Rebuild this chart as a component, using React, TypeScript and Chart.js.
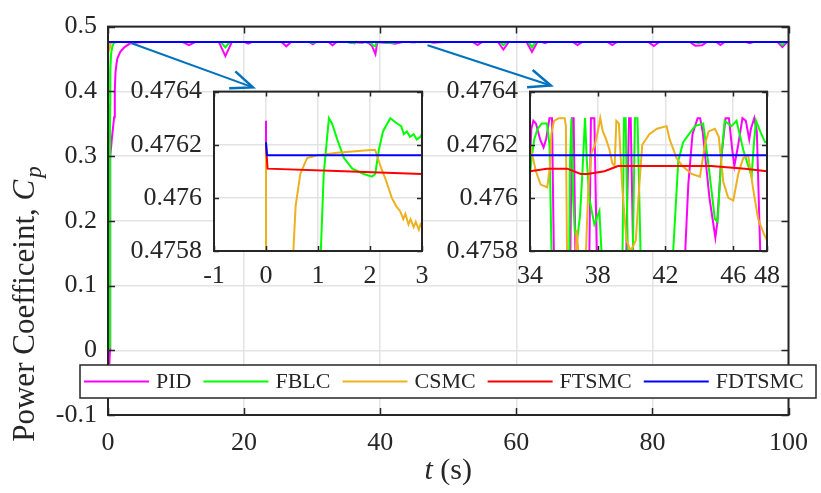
import React, { useEffect, useRef } from "react";
import { Chart, registerables } from "chart.js";

Chart.register(...registerables);

const FONT = '"Liberation Serif", "Times New Roman", serif';
const INK = "#262626";

const seriesNames = ["PID", "FBLC", "CSMC", "FTSMC", "FDTSMC"];
const seriesColors = ["#FF00FF", "#00FF00", "#EDB120", "#FF0000", "#0000FF"];

// [t (s), Cp]
const pid: number[][] = [
  [0, 0.47629], [0.02, -0.02], [0.2, -0.02], [0.3, 0.0], [0.33, 0.3], [0.6, 0.33], [0.9, 0.36],
  [1.0, 0.4], [1.1, 0.43], [1.35, 0.45], [1.8, 0.461], [2.4, 0.468], [3.2, 0.4738], [4.5, 0.4758],
  [6.0, 0.4762],
  [11.0, 0.4762], [11.9, 0.4712], [12.8, 0.4762],
  [16.3, 0.4762], [17.25, 0.4545], [18.2, 0.4762],
  [20.1, 0.4762], [20.6, 0.4738], [21.1, 0.4762],
  [25.5, 0.4762], [26.2, 0.4695], [26.9, 0.4762],
  [29.6, 0.4762], [30.1, 0.4728], [30.6, 0.4762],
  [32.4, 0.4762], [33.0, 0.4712], [33.6, 0.4762],
  [34.0, 0.47615], [34.08, 0.47626], [34.2, 0.47629], [34.35, 0.47628], [34.6, 0.47622], [34.8, 0.47619],
  [34.95, 0.47622], [35.15, 0.4763], [35.3, 0.4763], [35.45, 0.4756], [35.7, 0.475], [36.0, 0.4748],
  [36.2, 0.474], [36.35, 0.4756], [36.48, 0.4763], [36.58, 0.4763], [36.72, 0.4756], [37.0, 0.475],
  [37.4, 0.4752], [37.6, 0.4763], [37.8, 0.4763], [38.0, 0.4756], [38.3, 0.4748], [38.8, 0.47],
  [39.3, 0.4576], [39.55, 0.4745], [39.7, 0.47585], [39.85, 0.4763], [39.95, 0.4763], [40.15, 0.4756],
  [40.6, 0.475], [41.5, 0.4748], [42.2, 0.4735], [42.8, 0.475], [43.1, 0.4757], [43.35, 0.47605],
  [43.6, 0.47624], [43.9, 0.4763], [44.05, 0.4763], [44.2, 0.47625], [44.6, 0.476], [44.95, 0.47585],
  [45.05, 0.4759], [45.3, 0.47615], [45.55, 0.4763], [45.75, 0.4763], [45.95, 0.47618], [46.07, 0.47612],
  [46.3, 0.4762], [46.55, 0.4763], [46.75, 0.47629], [46.95, 0.47622], [47.05, 0.47626], [47.25, 0.4763],
  [47.4, 0.47625], [47.6, 0.4758], [47.8, 0.4752], [48.0, 0.475], [48.5, 0.4758], [49.5, 0.4762],
  [53.6, 0.4762], [54.3, 0.4715], [55.0, 0.4762],
  [57.3, 0.4762], [58.1, 0.4646], [58.9, 0.4762],
  [61.5, 0.4762], [62.3, 0.461], [63.1, 0.4762],
  [63.8, 0.4762], [64.2, 0.4745], [64.6, 0.4762],
  [68.3, 0.4762], [69.0, 0.4715], [69.7, 0.4762],
  [73.4, 0.4762], [74.1, 0.4715], [74.8, 0.4762],
  [79.4, 0.4762], [80.2, 0.47], [81.0, 0.4762],
  [85.5, 0.4762], [86.3, 0.4705], [87.3, 0.4712], [88.0, 0.4762],
  [89.4, 0.4762], [90.0, 0.4715], [90.6, 0.4762],
  [93.8, 0.4762], [94.3, 0.4742], [94.8, 0.4762],
  [98.4, 0.4762], [99.1, 0.4685], [99.8, 0.4762], [100, 0.4762],
];

const fblc: number[][] = [
  [0, 0.47621], [0.02, 0.0], [0.26, 0.005], [0.29, 0.2], [0.31, 0.38], [0.34, 0.43], [0.45, 0.458],
  [0.65, 0.47], [0.85, 0.4745],
  [1.035, 0.4757], [1.11, 0.47609], [1.21, 0.4763], [1.27, 0.47628], [1.37, 0.47622], [1.5, 0.47615],
  [1.66, 0.47611], [1.88, 0.47609], [2.04, 0.47608], [2.1, 0.47609], [2.17, 0.47618], [2.25, 0.47625],
  [2.39, 0.4763], [2.52, 0.47628], [2.6, 0.47627], [2.65, 0.47624], [2.71, 0.47625], [2.77, 0.47623],
  [2.84, 0.47624], [2.9, 0.47622], [2.97, 0.47623], [3.0, 0.47624], [4.0, 0.4762],
  [16.6, 0.4762], [17.25, 0.468], [17.9, 0.4762],
  [29.7, 0.4762], [30.1, 0.4745], [30.5, 0.4762],
  [33.5, 0.4762],
  [34.0, 0.47609], [34.1, 0.47615], [34.25, 0.47622], [34.45, 0.47626], [34.7, 0.47628], [35.0, 0.47628],
  [35.15, 0.4762], [35.3, 0.4757], [35.6, 0.4752], [36.0, 0.475], [36.2, 0.4745], [36.35, 0.4761],
  [36.45, 0.4763], [36.55, 0.476], [36.65, 0.47587], [36.8, 0.47585], [36.95, 0.47593], [37.1, 0.4761],
  [37.25, 0.4763], [37.35, 0.47615], [37.5, 0.476], [37.8, 0.4759], [38.1, 0.47595], [38.3, 0.4757],
  [38.6, 0.475], [39.0, 0.4705], [39.3, 0.4697], [39.45, 0.4757], [39.55, 0.4763], [39.65, 0.4763],
  [39.8, 0.4757], [40.05, 0.4757], [40.2, 0.4763], [40.35, 0.4763], [40.6, 0.4756], [41.0, 0.4752],
  [42.0, 0.475], [42.37, 0.4757], [42.76, 0.47614], [43.05, 0.47621], [43.74, 0.47627], [44.23, 0.47628],
  [44.55, 0.47612], [44.92, 0.47592], [45.08, 0.47591], [45.3, 0.47615], [45.5, 0.47629], [45.7, 0.47628],
  [45.9, 0.47627], [46.2, 0.47629], [46.6, 0.47618], [47.09, 0.47608], [47.22, 0.4762], [47.35, 0.47629],
  [47.6, 0.47625], [47.88, 0.47621], [48.0, 0.47621], [48.5, 0.4762],
  [57.6, 0.4762], [58.1, 0.4715], [58.6, 0.4762],
  [61.8, 0.4762], [62.3, 0.468], [62.8, 0.4762],
  [86.0, 0.4762], [86.8, 0.4748], [87.5, 0.4762],
  [98.7, 0.4762], [99.1, 0.4715], [99.5, 0.4762], [100, 0.4762],
];

const csmc: number[][] = [
  [0, 0.4762], [0.03, 0.468], [0.1, 0.462], [0.25, 0.466], [0.4, 0.4735], [0.5, 0.4757], [0.57, 0.47597],
  [0.66, 0.47609], [0.79, 0.47615], [0.98, 0.47616], [1.37, 0.47617], [2.01, 0.47618], [2.1, 0.47618],
  [2.2, 0.47612], [2.3, 0.47607], [2.42, 0.476], [2.5, 0.47597], [2.58, 0.47595], [2.64, 0.47592],
  [2.68, 0.47594], [2.74, 0.4759], [2.78, 0.47592], [2.84, 0.47589], [2.88, 0.47591], [2.94, 0.47588],
  [2.97, 0.4759], [3.0, 0.47589], [4.0, 0.4761], [5.0, 0.4762],
  [33.5, 0.4762],
  [34.0, 0.4762], [34.14, 0.47616], [34.35, 0.4761], [34.63, 0.47605], [35.02, 0.47604], [35.18, 0.47612],
  [35.26, 0.47624], [35.42, 0.47629], [35.7, 0.4763], [36.05, 0.4763], [36.12, 0.47627], [36.2, 0.4757],
  [36.5, 0.4753], [36.75, 0.47588], [36.85, 0.4758], [37.1, 0.4755], [37.25, 0.4757], [37.45, 0.47605],
  [37.64, 0.47617], [37.84, 0.4762], [38.1, 0.47628], [38.15, 0.4763], [38.3, 0.47625], [38.5, 0.47622],
  [38.7, 0.47618], [38.86, 0.47613], [39.0, 0.47612], [39.1, 0.47629], [39.25, 0.47628], [39.45, 0.47604],
  [39.7, 0.47584], [39.95, 0.4758], [40.25, 0.47584], [40.45, 0.47604], [40.63, 0.4762], [41.05, 0.47624],
  [41.5, 0.47626], [42.07, 0.47627], [42.25, 0.47622], [42.66, 0.47615], [43.0, 0.47612], [43.55, 0.47609],
  [44.04, 0.47608], [44.33, 0.4762], [44.55, 0.47625], [44.92, 0.47626], [45.15, 0.47623], [45.42, 0.47606],
  [45.71, 0.476], [46.01, 0.47599], [46.3, 0.47609], [46.6, 0.47615], [46.89, 0.47616], [47.19, 0.47603],
  [47.48, 0.47592], [47.78, 0.47587], [48.0, 0.47584], [48.5, 0.476], [49.5, 0.4762], [100, 0.4762],
];

const ftsmc: number[][] = [
  [0, 0.4762], [0.03, 0.47611], [1.5, 0.4761], [3, 0.47609], [10, 0.4761], [34, 0.4761], [35, 0.47611],
  [36.2, 0.47611], [37, 0.47609], [37.4, 0.47609], [38.4, 0.4761], [39.2, 0.47612], [40.8, 0.47612],
  [44.7, 0.47612], [46.7, 0.47611], [48, 0.4761], [100, 0.4761],
];

const fdtsmc: number[][] = [
  [0, 0.47621], [0.02, 0.47616], [100, 0.47616],
];

const seriesData = [pid, fblc, csmc, ftsmc, fdtsmc];

const mainXTicks = [0, 20, 40, 60, 80, 100];
const mainYTicks = [-0.1, 0, 0.1, 0.2, 0.3, 0.4, 0.5];
const inset1XTicks = [-1, 0, 1, 2, 3];
const inset2XTicks = [34, 38, 42, 46, 48];
const insetYTicks = [0.4758, 0.476, 0.4762, 0.4764];

// zoom arrows, in data units of the main axes: [t, Cp]
const arrowFrom1 = [3.48, 0.4742];
const arrowTo1 = [21.3, 0.4061];
const arrowFrom2 = [46.96, 0.4712];
const arrowTo2 = [65.07, 0.4091];

function makeDatasets() {
  return seriesNames.map((name, i) => ({
    label: name,
    data: seriesData[i].map(([x, y]) => ({ x, y })),
    borderColor: seriesColors[i],
    backgroundColor: seriesColors[i],
    borderWidth: 2,
    pointRadius: 0,
    tension: 0,
    fill: false,
    order: seriesNames.length - i,
  }));
}

function framePlugin(id: string, tickLen: number) {
  return {
    id,
    beforeDraw(chart: any) {
      const { ctx, chartArea } = chart;
      ctx.save();
      ctx.fillStyle = "#ffffff";
      ctx.fillRect(chartArea.left, chartArea.top, chartArea.right - chartArea.left, chartArea.bottom - chartArea.top);
      ctx.restore();
    },
    afterDatasetsDraw(chart: any) {
      const { ctx, chartArea, scales } = chart;
      const { left, right, top, bottom } = chartArea;
      ctx.save();
      ctx.strokeStyle = INK;
      ctx.lineWidth = 1.5;
      ctx.beginPath();
      scales.x.ticks.forEach((t: any) => {
        const px = Math.round(scales.x.getPixelForValue(t.value)) + 0.5;
        ctx.moveTo(px, bottom);
        ctx.lineTo(px, bottom - tickLen);
        ctx.moveTo(px, top);
        ctx.lineTo(px, top + tickLen);
      });
      scales.y.ticks.forEach((t: any) => {
        const py = Math.round(scales.y.getPixelForValue(t.value)) + 0.5;
        ctx.moveTo(left, py);
        ctx.lineTo(left + tickLen, py);
        ctx.moveTo(right, py);
        ctx.lineTo(right - tickLen, py);
      });
      ctx.stroke();
      ctx.lineWidth = 2;
      ctx.strokeRect(left, top, right - left, bottom - top);
      ctx.restore();
    },
  };
}

function drawArrow(ctx: CanvasRenderingContext2D, x1: number, y1: number, x2: number, y2: number) {
  const ang = Math.atan2(y2 - y1, x2 - x1);
  const c = Math.cos(ang);
  const s = Math.sin(ang);
  const L = 22;
  const W = 9;
  const bx = x2 - L * c;
  const by = y2 - L * s;
  ctx.save();
  ctx.strokeStyle = "#0072BD";
  ctx.lineWidth = 2;
  ctx.beginPath();
  ctx.moveTo(x1, y1);
  ctx.lineTo(x2, y2);
  ctx.stroke();
  ctx.lineWidth = 2.5;
  ctx.lineJoin = "miter";
  ctx.beginPath();
  ctx.moveTo(bx - W * s, by + W * c);
  ctx.lineTo(x2, y2);
  ctx.lineTo(bx + W * s, by - W * c);
  ctx.stroke();
  ctx.restore();
}

const decorPlugin = {
  id: "decor",
  afterDraw(chart: any) {
    const { ctx, chartArea, scales } = chart;
    const xs = scales.x;
    const ys = scales.y;
    drawArrow(ctx, xs.getPixelForValue(arrowFrom1[0]), ys.getPixelForValue(arrowFrom1[1]),
      xs.getPixelForValue(arrowTo1[0]), ys.getPixelForValue(arrowTo1[1]));
    drawArrow(ctx, xs.getPixelForValue(arrowFrom2[0]), ys.getPixelForValue(arrowFrom2[1]),
      xs.getPixelForValue(arrowTo2[0]), ys.getPixelForValue(arrowTo2[1]));

    // legend
    ctx.save();
    const lx0 = 80, lx1 = 816, ly0 = 365, ly1 = 398;
    ctx.fillStyle = "#ffffff";
    ctx.fillRect(lx0, ly0, lx1 - lx0, ly1 - ly0);
    ctx.strokeStyle = INK;
    ctx.lineWidth = 1.5;
    ctx.strokeRect(lx0, ly0, lx1 - lx0, ly1 - ly0);
    ctx.font = `22px ${FONT}`;
    ctx.textBaseline = "middle";
    ctx.textAlign = "left";
    const cy = (ly0 + ly1) / 2;
    let x = lx0 + 4;
    seriesNames.forEach((name, i) => {
      ctx.strokeStyle = seriesColors[i];
      ctx.lineWidth = 2;
      ctx.beginPath();
      ctx.moveTo(x, cy);
      ctx.lineTo(x + 65, cy);
      ctx.stroke();
      x += 72;
      ctx.fillStyle = INK;
      ctx.fillText(name, x, cy + 1);
      x += ctx.measureText(name).width + 12;
    });
    ctx.restore();

    // x title
    ctx.save();
    ctx.fillStyle = INK;
    ctx.textBaseline = "middle";
    ctx.textAlign = "left";
    const xc = (chartArea.left + chartArea.right) / 2;
    ctx.font = `italic 30px ${FONT}`;
    const wt = ctx.measureText("t").width;
    ctx.font = `30px ${FONT}`;
    const ws = ctx.measureText(" (s)").width;
    const tx = xc - (wt + ws) / 2;
    ctx.font = `italic 30px ${FONT}`;
    ctx.fillText("t", tx, 471);
    ctx.font = `30px ${FONT}`;
    ctx.fillText(" (s)", tx + wt, 471);
    ctx.restore();

    // y title
    ctx.save();
    ctx.fillStyle = INK;
    ctx.textBaseline = "alphabetic";
    ctx.textAlign = "left";
    const p1 = "Power Coefficeint, ";
    ctx.font = `31px ${FONT}`;
    const w1 = ctx.measureText(p1).width;
    ctx.font = `italic 31px ${FONT}`;
    const w2 = ctx.measureText("C").width;
    ctx.font = `italic 23px ${FONT}`;
    const w3 = ctx.measureText("p").width;
    const total = w1 + w2 + w3 + 2;
    ctx.translate(34, 304);
    ctx.rotate(-Math.PI / 2);
    let sx = -total / 2;
    ctx.font = `31px ${FONT}`;
    ctx.fillText(p1, sx, 0);
    sx += w1;
    ctx.font = `italic 31px ${FONT}`;
    ctx.fillText("C", sx, 0);
    sx += w2 + 2;
    ctx.font = `italic 23px ${FONT}`;
    ctx.fillText("p", sx, 7);
    ctx.restore();
  },
};

const gridOpts = { color: "#E3E3E3", lineWidth: 1.5, drawTicks: false };

function mainConfig(): any {
  return {
    type: "line",
    data: { datasets: makeDatasets() },
    options: {
      responsive: false,
      animation: false,
      devicePixelRatio: 1,
      layout: { padding: { left: 0, top: 20, right: 23, bottom: 0 } },
      plugins: { legend: { display: false }, tooltip: { enabled: false } },
      scales: {
        x: {
          type: "linear",
          min: 0,
          max: 100,
          afterBuildTicks: (s: any) => { s.ticks = mainXTicks.map((v) => ({ value: v })); },
          afterFit: (s: any) => { s.height = 78; },
          ticks: {
            autoSkip: false, maxRotation: 0, padding: 13, color: INK,
            font: { family: FONT, size: 26 },
            callback: (v: any) => String(v),
          },
          grid: gridOpts,
          border: { display: false },
        },
        y: {
          type: "linear",
          min: -0.1,
          max: 0.5,
          afterBuildTicks: (s: any) => { s.ticks = mainYTicks.map((v) => ({ value: v })); },
          afterFit: (s: any) => { s.width = 108; },
          ticks: {
            autoSkip: false, padding: 11, color: INK,
            font: { family: FONT, size: 26 },
            callback: (v: any) => String(Number(Number(v).toFixed(1))),
          },
          grid: gridOpts,
          border: { display: false },
        },
      },
    },
    plugins: [framePlugin("mainFrame", 7), decorPlugin],
  };
}

function insetConfig(xmin: number, xmax: number, xticks: number[], yWidth: number, padRight: number): any {
  return {
    type: "line",
    data: { datasets: makeDatasets() },
    options: {
      responsive: false,
      animation: false,
      devicePixelRatio: 1,
      layout: { padding: { left: 0, top: 20, right: padRight, bottom: 0 } },
      plugins: { legend: { display: false }, tooltip: { enabled: false } },
      scales: {
        x: {
          type: "linear",
          min: xmin,
          max: xmax,
          afterBuildTicks: (s: any) => { s.ticks = xticks.map((v) => ({ value: v })); },
          afterFit: (s: any) => { s.height = 44; },
          ticks: {
            autoSkip: false, maxRotation: 0, padding: 10, color: INK,
            font: { family: FONT, size: 26 },
            callback: (v: any) => String(v),
          },
          grid: gridOpts,
          border: { display: false },
        },
        y: {
          type: "linear",
          min: insetYTicks[0],
          max: insetYTicks[insetYTicks.length - 1],
          afterBuildTicks: (s: any) => { s.ticks = insetYTicks.map((v) => ({ value: v })); },
          afterFit: (s: any) => { s.width = yWidth; },
          ticks: {
            autoSkip: false, padding: 12, color: INK,
            font: { family: FONT, size: 26 },
            callback: (v: any) => Number(v).toFixed(4).replace(/0+$/, ""),
          },
          grid: gridOpts,
          border: { display: false },
        },
      },
    },
    plugins: [framePlugin("insetFrame", 5)],
  };
}

export default function App() {
  const mainRef = useRef<HTMLCanvasElement>(null);
  const in1Ref = useRef<HTMLCanvasElement>(null);
  const in2Ref = useRef<HTMLCanvasElement>(null);

  useEffect(() => {
    const charts: Chart[] = [];
    if (mainRef.current) charts.push(new Chart(mainRef.current, mainConfig()));
    if (in1Ref.current) charts.push(new Chart(in1Ref.current, insetConfig(-1, 3, inset1XTicks, 94, 18)));
    if (in2Ref.current) charts.push(new Chart(in2Ref.current, insetConfig(34, 48, inset2XTicks, 90, 33)));
    return () => charts.forEach((c) => c.destroy());
  }, []);

  return (
    <div style={{ position: "fixed", left: 0, top: 0, width: 821, height: 493, background: "#ffffff" }}>
      <canvas ref={mainRef} width={821} height={493}
        style={{ position: "absolute", left: 0, top: 0, width: 821, height: 493 }} />
      <canvas ref={in1Ref} width={320} height={231}
        style={{ position: "absolute", left: 120, top: 64, width: 320, height: 231 }} />
      <canvas ref={in2Ref} width={360} height={231}
        style={{ position: "absolute", left: 440, top: 64, width: 360, height: 231 }} />
    </div>
  );
}
